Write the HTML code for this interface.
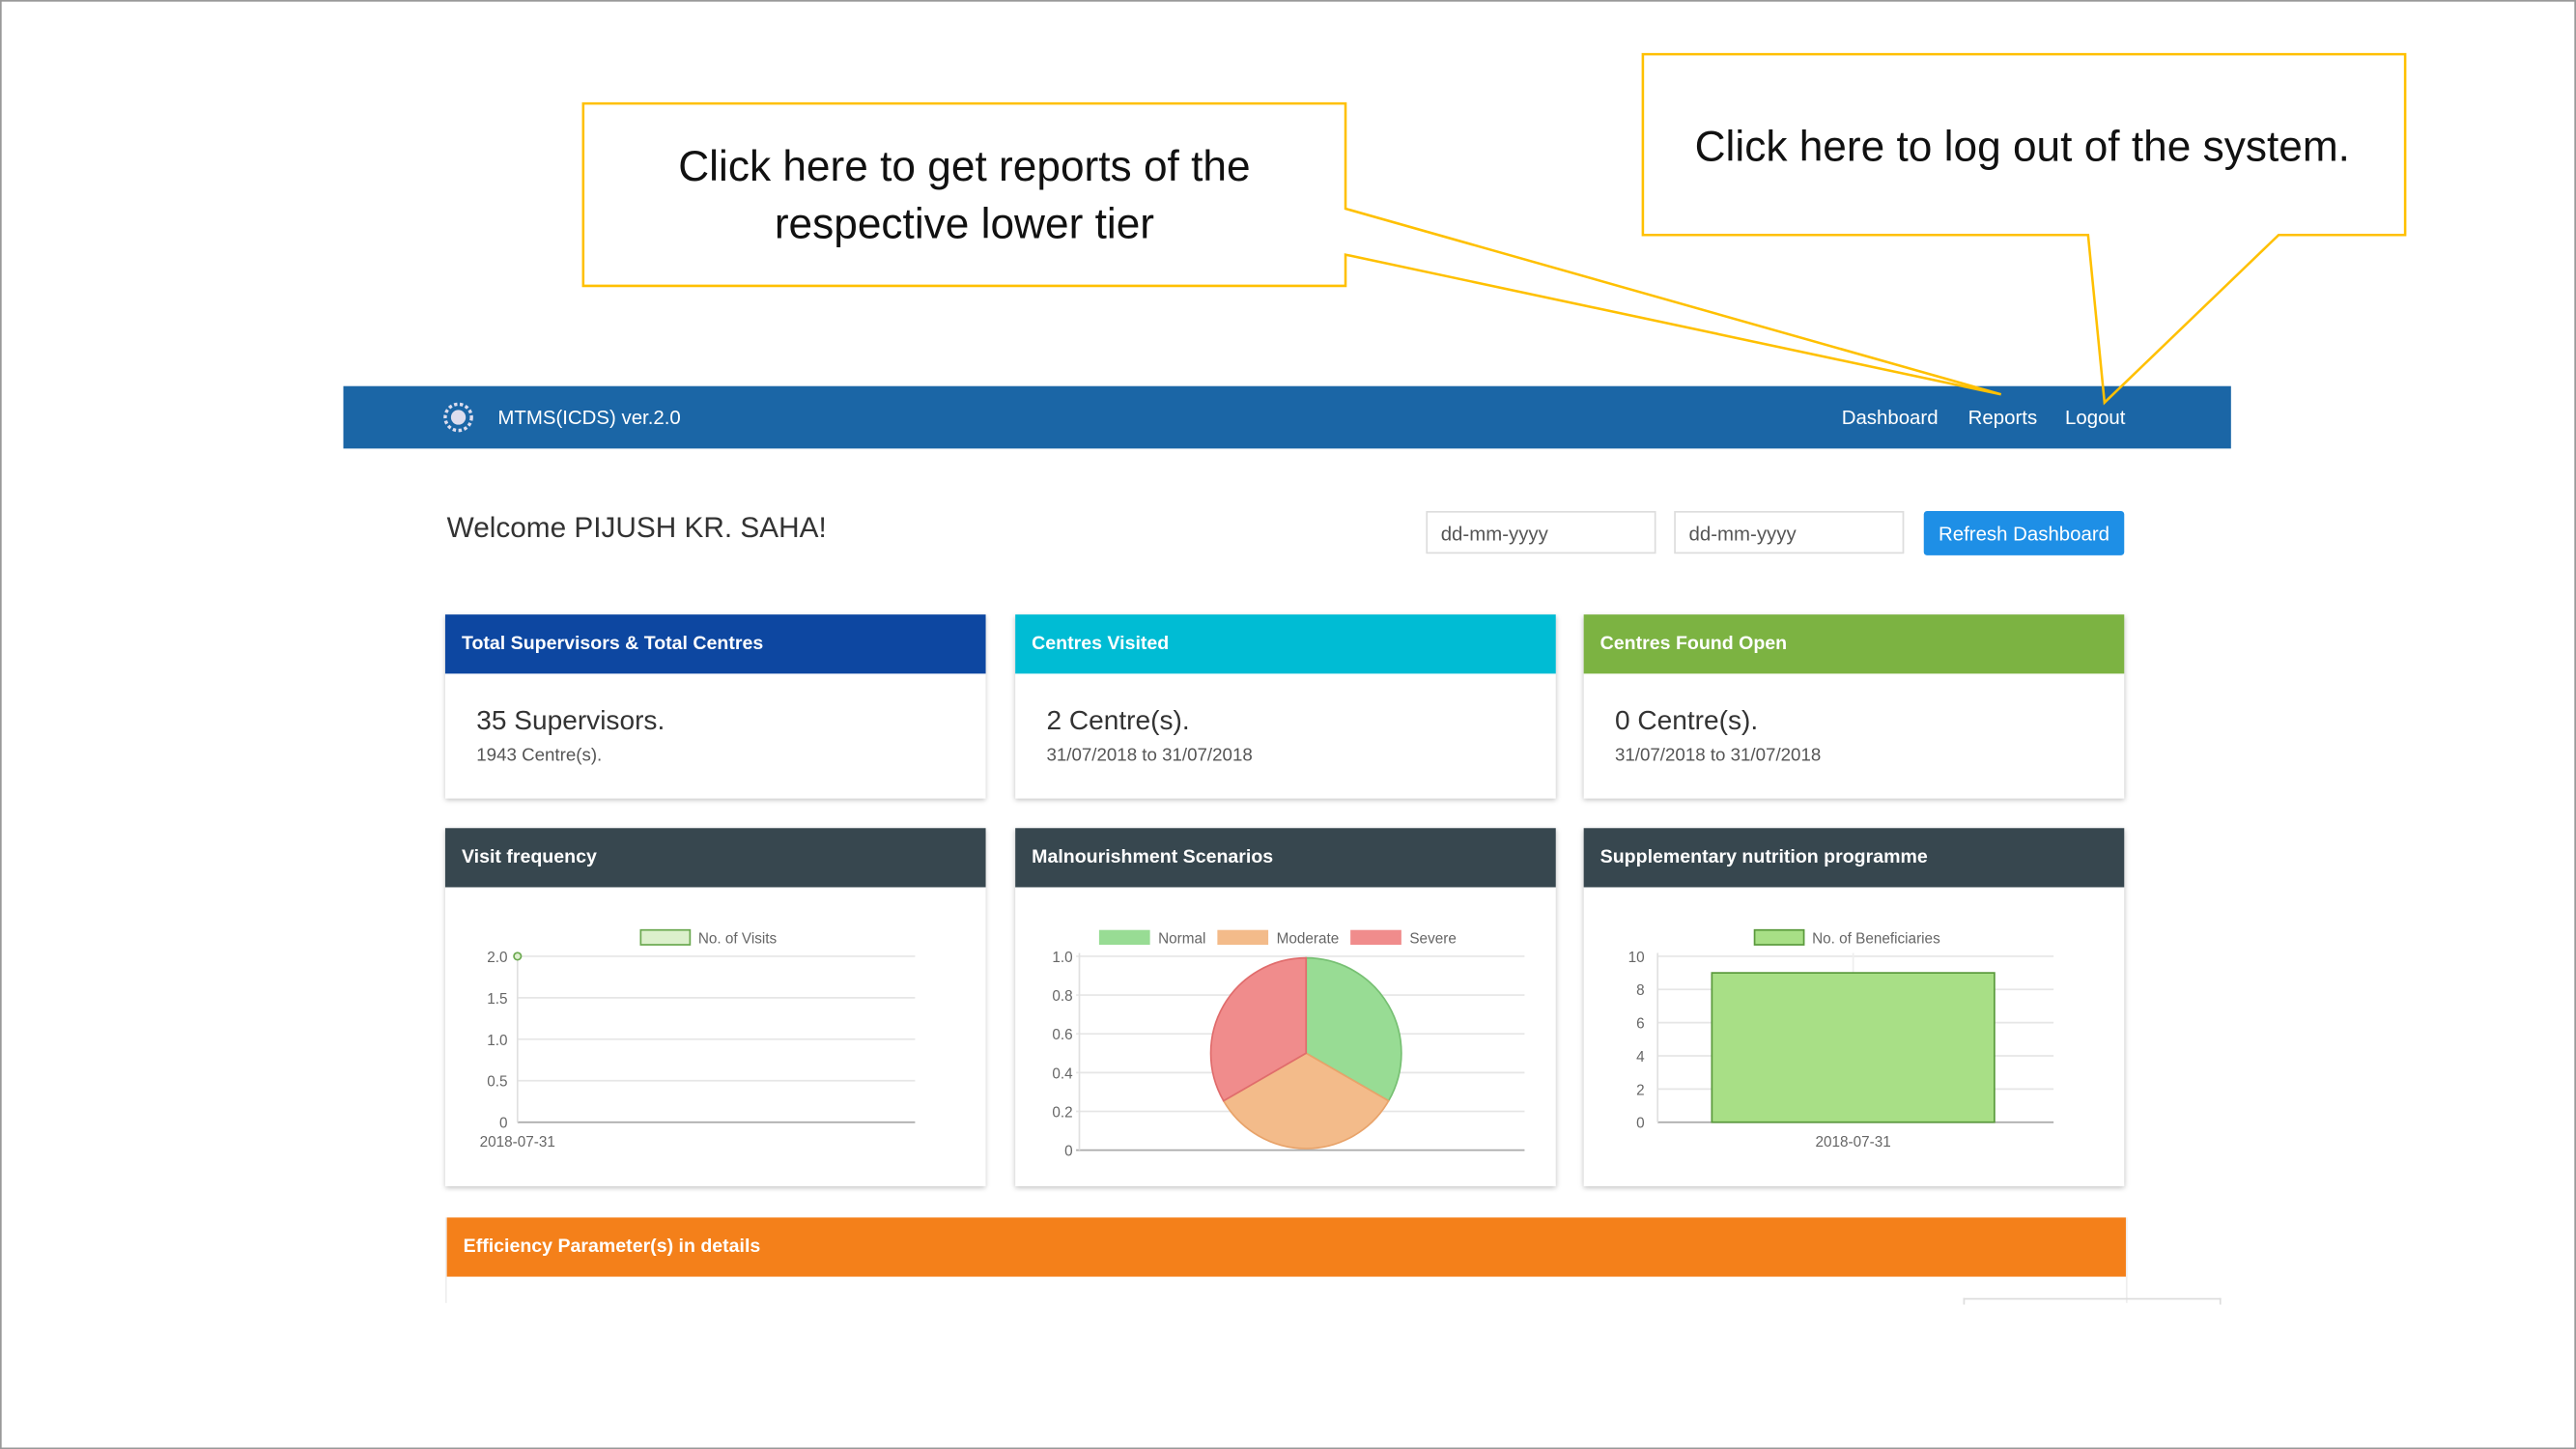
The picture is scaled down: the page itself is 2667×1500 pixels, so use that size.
<!DOCTYPE html>
<html><head><meta charset="utf-8">
<style>
html,body{margin:0;padding:0;background:#fff;overflow:hidden}
#stage{position:absolute;left:0;top:0;width:1568px;height:882px;transform:scale(1.7009);transform-origin:0 0;font-family:"Liberation Sans",sans-serif;background:#fff}
.abs{position:absolute}
.card{position:absolute;background:#fff;box-shadow:0 1px 3px rgba(0,0,0,.25)}
.hdr{position:absolute;left:0;top:0;right:0;height:36px;color:#fff;font-weight:bold;font-size:11.5px;line-height:37px;padding-left:10px}
.big{position:absolute;left:19px;top:56px;font-size:16.5px;color:#333}
.sub{position:absolute;left:19px;top:80px;font-size:11px;color:#555}
.inp{position:absolute;top:311px;width:140px;height:26px;border:1px solid #ddd;font-size:12px;color:#555;line-height:27px;padding-left:8px;box-sizing:border-box}
svg text{font-family:"Liberation Sans",sans-serif}
</style></head><body>
<div id="stage">
<div class="abs" style="left:0;top:0;width:1566px;height:880px;border:1px solid #999"></div>

<div class="abs" style="left:209px;top:235px;width:1149px;height:38px;background:#1b66a6">
 <svg class="abs" style="left:60px;top:9px" width="20" height="20"><circle cx="10" cy="10" r="8" fill="none" stroke="#dde" stroke-width="2" stroke-dasharray="2 1.5"/><circle cx="10" cy="10" r="4.5" fill="#dde"/></svg>
 <div class="abs" style="left:94px;top:12px;color:#fff;font-size:12px">MTMS(ICDS) ver.2.0</div>
 <div class="abs" style="left:912px;top:12px;color:#fff;font-size:12px">Dashboard</div>
 <div class="abs" style="left:989px;top:12px;color:#fff;font-size:12px">Reports</div>
 <div class="abs" style="left:1048px;top:12px;color:#fff;font-size:12px">Logout</div>
</div>

<div class="abs" style="left:272px;top:311px;font-size:17.5px;color:#333">Welcome PIJUSH KR. SAHA!</div>
<div class="inp" style="left:868px">dd-mm-yyyy</div>
<div class="inp" style="left:1019px">dd-mm-yyyy</div>
<div class="abs" style="left:1171px;top:311px;width:122px;height:27px;background:#1e8fe6;color:#fff;font-size:12px;text-align:center;line-height:28px;border-radius:2px">Refresh Dashboard</div>

<div class="card" style="left:271px;top:374px;width:329px;height:112px">
 <div class="hdr" style="background:#0d47a1">Total Supervisors &amp; Total Centres</div>
 <div class="big">35 Supervisors.</div>
 <div class="sub">1943 Centre(s).</div>
</div>
<div class="card" style="left:618px;top:374px;width:329px;height:112px">
 <div class="hdr" style="background:#00bcd4">Centres Visited</div>
 <div class="big">2 Centre(s).</div>
 <div class="sub">31/07/2018 to 31/07/2018</div>
</div>
<div class="card" style="left:964px;top:374px;width:329px;height:112px">
 <div class="hdr" style="background:#7cb342">Centres Found Open</div>
 <div class="big">0 Centre(s).</div>
 <div class="sub">31/07/2018 to 31/07/2018</div>
</div>

<div class="card" style="left:271px;top:504px;width:329px;height:218px">
 <div class="hdr" style="background:#37474f">Visit frequency</div></div>
<div class="card" style="left:618px;top:504px;width:329px;height:218px">
 <div class="hdr" style="background:#37474f">Malnourishment Scenarios</div></div>
<div class="card" style="left:964px;top:504px;width:329px;height:218px">
 <div class="hdr" style="background:#37474f">Supplementary nutrition programme</div></div>

<div class="abs" style="left:271px;top:741px;width:1022px;height:52px;border-left:1px solid #eee;border-right:1px solid #eee">
 <div class="hdr" style="background:#f4801a;left:0;right:0">Efficiency Parameter(s) in details</div></div>
<div class="abs" style="left:1195px;top:790px;width:155px;height:3px;border-top:1px solid #ddd;border-left:1px solid #ddd;border-right:1px solid #ddd"></div>

<svg id="charts" class="abs" style="left:0;top:0" width="1568" height="882"></svg>

<svg class="abs" style="left:0;top:0" width="1568" height="882">
 <path d="M355,63 H819 V127 L1218,240 L819,155 V174 H355 Z" fill="none" stroke="#ffc000" stroke-width="1.5"/>
 <path d="M1000,33 H1464 V143 H1387 L1281,245 L1271,143 H1000 Z" fill="none" stroke="#ffc000" stroke-width="1.5"/>
 <text x="587" y="110" font-size="26" text-anchor="middle" fill="#111">Click here to get reports of the</text>
 <text x="587" y="145" font-size="26" text-anchor="middle" fill="#111">respective lower tier</text>
 <text x="1231" y="98" font-size="26" text-anchor="middle" fill="#111">Click here to log out of the system.</text>
</svg>
</div>

<script>
const visitDates = ["2018-07-31"];
const visitValues = [2];
const visitTicks = [0, 0.5, 1.0, 1.5, 2.0];
const pieLabels = ["Normal", "Moderate", "Severe"];
const pieValues = [1, 1, 1];
const pieTicks = [0, 0.2, 0.4, 0.6, 0.8, 1.0];
const benDates = ["2018-07-31"];
const benValues = [9];
const benTicks = [0, 2, 4, 6, 8, 10];

const NS = "http://www.w3.org/2000/svg";
const svg = document.getElementById("charts");
function mk(tag, attrs, txt) {
  const e = document.createElementNS(NS, tag);
  for (const k in attrs) e.setAttribute(k, attrs[k]);
  if (txt !== undefined) e.textContent = txt;
  svg.appendChild(e);
  return e;
}

// Visit frequency
const vy = v => 683 - v / 2 * 101;
const vx = i => 315;
visitTicks.forEach(t => {
  const g = mk("line", {x1: 315, x2: 557, y1: vy(t), y2: vy(t), stroke: t === 0 ? "#aaa" : "#e6e6e6"});
  
  
  const l = mk("text", {x: 309, y: vy(t) + 3.5, "font-size": 9, fill: "#666", "text-anchor": "end"}, t === 0 ? "0" : t.toFixed(1));
  
  
});
mk("line", {x1: 315, x2: 315, y1: 580, y2: 683, stroke: "#e0e0e0"});
visitDates.forEach((d, i) => {
  const l = mk("text", {x: vx(i), y: 698, "font-size": 9, fill: "#666", "text-anchor": "middle"}, d);
  
  
  const p = mk("circle", {cx: vx(i), cy: vy(visitValues[i]), r: 2.2, fill: "#dff0d0", stroke: "#6aa84f", "stroke-width": 1});
  
  
});
const vlb = mk("rect", {x: 390, y: 566, width: 30, height: 9, fill: "#dcf0cc", stroke: "#6aa84f"});


const vlt = mk("text", {x: 425, y: 574, "font-size": 9, fill: "#666"}, "No. of Visits");



// Pie
const py = v => 700 - v * 118;
pieTicks.forEach(t => {
  const g = mk("line", {x1: 655, x2: 928, y1: py(t), y2: py(t), stroke: t === 0 ? "#aaa" : "#e6e6e6"});
  
  
  const l = mk("text", {x: 653, y: py(t) + 3.5, "font-size": 9, fill: "#666", "text-anchor": "end"}, t === 0 ? "0" : t.toFixed(1));
  
  
});
mk("line", {x1: 657, x2: 657, y1: 580, y2: 700, stroke: "#e0e0e0"});
const pieFill = ["#98dc94", "#f3bb8a", "#f08c8c"];
const pieStroke = ["#77c073", "#e8a36a", "#e06c6c"];
const cx = 795, cy = 641, rx = 58, ry = 58;
const total = pieValues.reduce((a, b) => a + b, 0);
let ang = -Math.PI / 2;
pieValues.forEach((v, i) => {
  const a2 = ang + v / total * 2 * Math.PI;
  const x1 = cx + rx * Math.cos(ang), y1 = cy + ry * Math.sin(ang);
  const x2 = cx + rx * Math.cos(a2), y2 = cy + ry * Math.sin(a2);
  const large = (a2 - ang) > Math.PI ? 1 : 0;
  const s = mk("path", {d: `M${cx},${cy} L${x1},${y1} A${rx},${ry} 0 ${large} 1 ${x2},${y2} Z`, fill: pieFill[i], stroke: pieStroke[i], "stroke-width": 1});
  
  
  ang = a2;
});
const legX = [669, 741, 822];
pieLabels.forEach((lab, i) => {
  const r = mk("rect", {x: legX[i], y: 566, width: 31, height: 9, fill: pieFill[i]});
  
  
  const t = mk("text", {x: legX[i] + 36, y: 574, "font-size": 9, fill: "#666"}, lab);
  
  
});

// Beneficiaries bar
const by = v => 683 - v / 10 * 101;
const bx = i => 1128;
benTicks.forEach(t => {
  const g = mk("line", {x1: 1009, x2: 1250, y1: by(t), y2: by(t), stroke: t === 0 ? "#aaa" : "#e6e6e6"});
  
  
  const l = mk("text", {x: 1001, y: by(t) + 3.5, "font-size": 9, fill: "#666", "text-anchor": "end"}, String(t));
  
  
});
mk("line", {x1: 1009, x2: 1009, y1: 580, y2: 683, stroke: "#e0e0e0"});
mk("line", {x1: 1128, x2: 1128, y1: 580, y2: 683, stroke: "#eee"});
benDates.forEach((d, i) => {
  const b = mk("rect", {x: bx(i) - 86, y: by(benValues[i]), width: 172, height: by(0) - by(benValues[i]), fill: "#a8df86", stroke: "#5a9a3c", "stroke-width": 1});
  
  
  const l = mk("text", {x: bx(i), y: 698, "font-size": 9, fill: "#666", "text-anchor": "middle"}, d);
  
  
});
const blb = mk("rect", {x: 1068, y: 566, width: 30, height: 9, fill: "#a8df86", stroke: "#5a9a3c"});


const blt = mk("text", {x: 1103, y: 574, "font-size": 9, fill: "#666"}, "No. of Beneficiaries");


</script>
</body></html>
